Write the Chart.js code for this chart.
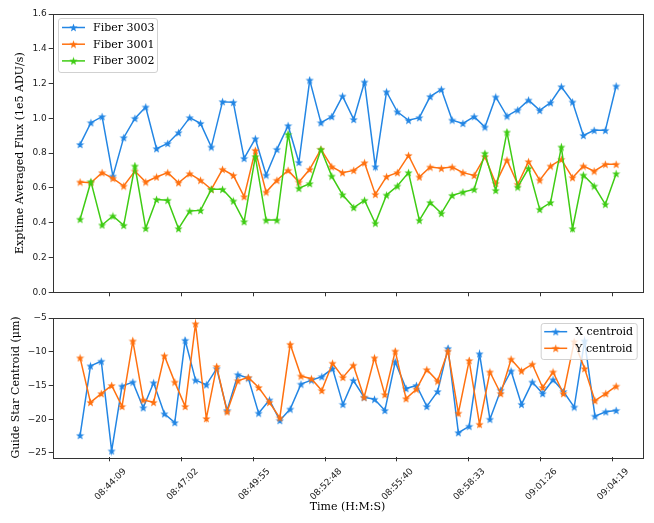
<!DOCTYPE html>
<html>
<head>
<meta charset="utf-8">
<title>Fiber flux and guide star centroid</title>
<script src="https://cdn.jsdelivr.net/npm/chart.js@4.4.1/dist/chart.umd.min.js"></script>
<style>
    html, body { margin: 0; padding: 0; background: #ffffff; }
    #figure { position: relative; width: 654px; height: 523px; }
    #fluxChart { position: absolute; left: 0; top: 0; }
    #centroidChart { position: absolute; left: 0; top: 300px; }
</style>
</head>
<body>
<div id="figure">
    <canvas id="fluxChart" width="654" height="300"></canvas>
    <canvas id="centroidChart" width="654" height="223"></canvas>
</div>
<script>
/**
 * Exposure flux per fiber (top) and guide star centroid (bottom)
 */

// ---- data ----
const fluxTimes = [
    '08:42:57', '08:43:23', '08:43:50', '08:44:16', '08:44:42', '08:45:09', '08:45:35', '08:46:01', '08:46:28', '08:46:54',
    '08:47:21', '08:47:47', '08:48:13', '08:48:40', '08:49:06', '08:49:32', '08:49:59', '08:50:25', '08:50:51', '08:51:18',
    '08:51:44', '08:52:10', '08:52:37', '08:53:03', '08:53:29', '08:53:56', '08:54:22', '08:54:48', '08:55:15', '08:55:41',
    '08:56:08', '08:56:34', '08:57:00', '08:57:27', '08:57:53', '08:58:19', '08:58:46', '08:59:12', '08:59:38', '09:00:05',
    '09:00:31', '09:00:57', '09:01:24', '09:01:50', '09:02:16', '09:02:43', '09:03:09', '09:03:35', '09:04:02', '09:04:28'
];
const fiber3003 = [
    0.85, 0.975, 1.01, 0.668, 0.889, 1.0, 1.065, 0.826, 0.856, 0.918,
    1.004, 0.971, 0.835, 1.096, 1.092, 0.77, 0.883, 0.674, 0.822, 0.958,
    0.747, 1.22, 0.975, 1.01, 1.128, 0.994, 1.209, 0.722, 1.153, 1.038,
    0.989, 1.004, 1.125, 1.167, 0.99, 0.971, 1.01, 0.95, 1.123, 1.013,
    1.048, 1.105, 1.046, 1.09, 1.182, 1.094, 0.902, 0.931, 0.931, 1.186
];
const fiber3001 = [
    0.634, 0.63, 0.688, 0.655, 0.611, 0.697, 0.634, 0.663, 0.688, 0.63,
    0.682, 0.644, 0.592, 0.707, 0.672, 0.55, 0.816, 0.576, 0.644, 0.701,
    0.634, 0.707, 0.822, 0.722, 0.688, 0.701, 0.745, 0.563, 0.665, 0.688,
    0.787, 0.663, 0.72, 0.713, 0.72, 0.688, 0.672, 0.78, 0.626, 0.76,
    0.621, 0.751, 0.645, 0.726, 0.764, 0.659, 0.726, 0.697, 0.736, 0.736
];
const fiber3002 = [
    0.42, 0.636, 0.387, 0.439, 0.385, 0.726, 0.368, 0.534, 0.529, 0.366,
    0.467, 0.471, 0.592, 0.592, 0.525, 0.406, 0.78, 0.415, 0.415, 0.908,
    0.598, 0.625, 0.822, 0.668, 0.561, 0.487, 0.529, 0.397, 0.559, 0.611,
    0.688, 0.414, 0.516, 0.454, 0.557, 0.576, 0.592, 0.799, 0.586, 0.921,
    0.605, 0.713, 0.477, 0.516, 0.835, 0.366, 0.674, 0.611, 0.506, 0.682
];

const centroidTimes = [
    '08:42:57', '08:43:22', '08:43:48', '08:44:13', '08:44:38', '08:45:04', '08:45:29', '08:45:54', '08:46:20', '08:46:45',
    '08:47:10', '08:47:35', '08:48:01', '08:48:26', '08:48:51', '08:49:17', '08:49:42', '08:50:07', '08:50:33', '08:50:58',
    '08:51:23', '08:51:49', '08:52:14', '08:52:39', '08:53:05', '08:53:30', '08:53:55', '08:54:21', '08:54:46', '08:55:11',
    '08:55:36', '08:56:02', '08:56:27', '08:56:52', '08:57:18', '08:57:43', '08:58:08', '08:58:34', '08:58:59', '08:59:24',
    '08:59:50', '09:00:15', '09:00:40', '09:01:06', '09:01:31', '09:01:56', '09:02:21', '09:02:47', '09:03:12', '09:03:37',
    '09:04:03', '09:04:28'
];
const xCentroid = [
    -22.4, -12.1, -11.4, -24.7, -15.1, -14.5, -18.3, -14.6, -19.2, -20.5,
    -8.3, -14.2, -14.9, -12.5, -18.7, -13.4, -13.9, -19.1, -17.15, -20.2,
    -18.5, -14.8, -14.2, -13.7, -12.5, -17.8, -14.25, -16.75, -17.05, -18.7,
    -11.5, -15.45, -15.0, -18.1, -15.9, -9.5, -22.0, -21.05, -10.3, -20.0,
    -15.7, -12.85, -17.8, -14.5, -16.2, -14.15, -15.9, -18.2, -8.4, -19.55,
    -18.9, -18.7
];
const yCentroid = [
    -10.9, -17.5, -16.2, -15.0, -18.1, -8.4, -17.15, -17.5, -10.6, -14.5,
    -18.1, -5.85, -19.9, -12.2, -18.9, -14.3, -13.8, -15.3, -17.5, -19.8,
    -8.9, -13.6, -14.0, -15.75, -11.7, -13.8, -12.0, -16.75, -10.9, -16.35,
    -9.9, -16.95, -15.55, -12.65, -14.35, -9.9, -19.1, -11.3, -20.75, -13.0,
    -16.2, -11.1, -12.85, -11.85, -15.3, -13.0, -16.2, -8.5, -12.5, -17.25,
    -16.2, -15.1
];

const timeTickLabels = ['08:44:09', '08:47:02', '08:49:55', '08:52:48', '08:55:40', '08:58:33', '09:01:26', '09:04:19'];
const fluxTicks = [0.0, 0.2, 0.4, 0.6, 0.8, 1.0, 1.2, 1.4, 1.6];
const centroidTicks = [-25, -20, -15, -10, -5];

// ---- helpers ----
const COLOR_BLUE = '#2386e4';
const COLOR_ORANGE = '#ff7110';
const COLOR_GREEN = '#3fcc14';
const AXIS_COLOR = '#333333';
const TICK_FONT = { family: 'DejaVu Sans', size: 9 };
const LABEL_FONT = { family: 'DejaVu Serif', size: 11 };

function toSeconds(hms) {
    const parts = hms.split(':').map(Number);
    return parts[0] * 3600 + parts[1] * 60 + parts[2];
}

const timeTickSeconds = timeTickLabels.map(toSeconds);
const TIME_MIN = toSeconds('08:41:51');
const TIME_MAX = toSeconds('09:05:31');

function makeStarMarker(color) {
    const size = 9;
    const c = document.createElement('canvas');
    c.width = size;
    c.height = size;
    const g = c.getContext('2d');
    const cx = size / 2;
    const cy = size / 2 + 0.4;
    g.beginPath();
    for (let k = 0; k < 10; k++) {
        const r = k % 2 === 0 ? 4.3 : 1.8;
        const a = -Math.PI / 2 + k * Math.PI / 5;
        const px = cx + r * Math.cos(a);
        const py = cy + r * Math.sin(a);
        if (k === 0) g.moveTo(px, py); else g.lineTo(px, py);
    }
    g.closePath();
    g.fillStyle = color;
    g.fill();
    return c;
}

function toPoints(times, values) {
    return times.map((t, i) => ({ x: toSeconds(t), y: values[i] }));
}

function seriesDataset(label, times, values, color, order) {
    return {
        label: label,
        data: toPoints(times, values),
        borderColor: color,
        backgroundColor: color,
        borderWidth: 1.5,
        tension: 0,
        fill: false,
        pointStyle: makeStarMarker(color),
        pointRadius: 3,
        order: order,
    };
}

// draws the four-sided frame that matplotlib puts round each axes
const framePlugin = {
    id: 'axesFrame',
    afterDatasetsDraw(chart) {
        const { ctx, chartArea } = chart;
        ctx.save();
        ctx.strokeStyle = AXIS_COLOR;
        ctx.lineWidth = 1;
        ctx.strokeRect(Math.round(chartArea.left) + 0.5, Math.round(chartArea.top) + 0.5,
            Math.round(chartArea.right - chartArea.left), Math.round(chartArea.bottom - chartArea.top));
        ctx.restore();
    }
};

// legend box in the style of the original plot: line sample + star + label
const legendBoxPlugin = {
    id: 'legendBox',
    afterDraw(chart, args, opts) {
        if (!opts || !opts.box) return;
        const ctx = chart.ctx;
        const b = opts.box;
        ctx.save();
        ctx.beginPath();
        ctx.roundRect(b.x + 0.5, b.y + 0.5, b.w, b.h, 2.5);
        ctx.fillStyle = 'rgba(255, 255, 255, 0.8)';
        ctx.fill();
        ctx.strokeStyle = 'rgba(204, 204, 204, 0.9)';
        ctx.lineWidth = 1;
        ctx.stroke();

        ctx.font = `${LABEL_FONT.size}px "${LABEL_FONT.family}"`;
        ctx.textBaseline = 'middle';
        ctx.textAlign = 'left';
        chart.data.datasets.forEach((ds, i) => {
            const y = b.y + b.firstRow + i * b.rowGap;
            const x0 = b.x + b.lineStart;
            const x1 = x0 + b.lineLength;
            ctx.strokeStyle = ds.borderColor;
            ctx.lineWidth = 1.5;
            ctx.beginPath();
            ctx.moveTo(x0, y);
            ctx.lineTo(x1, y);
            ctx.stroke();
            const star = ds.pointStyle;
            ctx.drawImage(star, (x0 + x1) / 2 - star.width / 2, y - star.height / 2);
            ctx.fillStyle = '#000000';
            ctx.fillText(ds.label, b.x + b.textStart, y + 0.5);
        });
        ctx.restore();
    }
};

function timeAxis(showLabels) {
    return {
        type: 'linear',
        min: TIME_MIN,
        max: TIME_MAX,
        afterBuildTicks: (scale) => { scale.ticks = timeTickSeconds.map((v) => ({ value: v })); },
        afterFit: (scale) => { scale.height = showLabels ? 65.7 : 7.7; },
        border: { display: false },
        grid: { drawOnChartArea: false, drawTicks: true, tickLength: 4, color: AXIS_COLOR },
        ticks: {
            display: showLabels,
            autoSkip: false,
            minRotation: 45,
            maxRotation: 45,
            labelOffset: 15,
            padding: 5,
            color: '#222222',
            font: TICK_FONT,
            callback: (value, index) => timeTickLabels[index],
        },
        title: {
            display: showLabels,
            text: 'Time (H:M:S)',
            color: '#000000',
            font: LABEL_FONT,
            padding: { top: 2, bottom: 9 },
        },
    };
}

function valueAxis(min, max, tickValues, titleText, titlePad, format) {
    return {
        min: min,
        max: max,
        afterBuildTicks: (scale) => { scale.ticks = tickValues.map((v) => ({ value: v })); },
        afterFit: (scale) => { scale.width = 52.7; },
        border: { display: false },
        grid: { drawOnChartArea: false, drawTicks: true, tickLength: 4, color: AXIS_COLOR },
        ticks: {
            padding: 2,
            color: '#222222',
            font: TICK_FONT,
            callback: format,
        },
        title: {
            display: true,
            text: titleText,
            color: '#000000',
            font: LABEL_FONT,
            padding: { top: titlePad, bottom: 0 },
        },
    };
}

function baseOptions(padding, scales, legendBox) {
    return {
        responsive: false,
        animation: false,
        devicePixelRatio: 1,
        layout: { padding: padding },
        scales: scales,
        plugins: {
            legend: { display: false },
            tooltip: { enabled: false },
            legendBox: { box: legendBox },
        },
        events: [],
    };
}

function buildFluxChart() {
    const ctx = document.getElementById('fluxChart').getContext('2d');
    return new Chart(ctx, {
        type: 'line',
        data: {
            datasets: [
                seriesDataset('Fiber 3003', fluxTimes, fiber3003, COLOR_BLUE, 3),
                seriesDataset('Fiber 3001', fluxTimes, fiber3001, COLOR_ORANGE, 2),
                seriesDataset('Fiber 3002', fluxTimes, fiber3002, COLOR_GREEN, 1),
            ]
        },
        options: baseOptions(
            { left: 0, right: 11.7, top: 14, bottom: 0 },
            {
                x: timeAxis(false),
                y: valueAxis(0, 1.6, fluxTicks, 'Exptime Averaged Flux (1e5 ADU/s)', 14, (v) => v.toFixed(1)),
            },
            { x: 58, y: 18, w: 99, h: 54, firstRow: 9.5, rowGap: 16.7, lineStart: 4, lineLength: 23, textStart: 35 }
        ),
        plugins: [framePlugin, legendBoxPlugin],
    });
}

function buildCentroidChart() {
    const ctx = document.getElementById('centroidChart').getContext('2d');
    return new Chart(ctx, {
        type: 'line',
        data: {
            datasets: [
                seriesDataset('X centroid', centroidTimes, xCentroid, COLOR_BLUE, 2),
                seriesDataset('Y centroid', centroidTimes, yCentroid, COLOR_ORANGE, 1),
            ]
        },
        options: baseOptions(
            { left: 0, right: 11.7, top: 17.7, bottom: 0 },
            {
                x: timeAxis(true),
                y: valueAxis(-25.65, -4.95, centroidTicks, 'Guide Star Centroid (\u03bcm)', 10,
                    (v) => String(v).replace('-', '\u2212')),
            },
            { x: 540.7, y: 23, w: 96, h: 36, firstRow: 8.7, rowGap: 16.6, lineStart: 3.5, lineLength: 23, textStart: 34.5 }
        ),
        plugins: [framePlugin, legendBoxPlugin],
    });
}

document.addEventListener('DOMContentLoaded', () => {
    buildFluxChart();
    buildCentroidChart();
});
</script>
</body>
</html>
